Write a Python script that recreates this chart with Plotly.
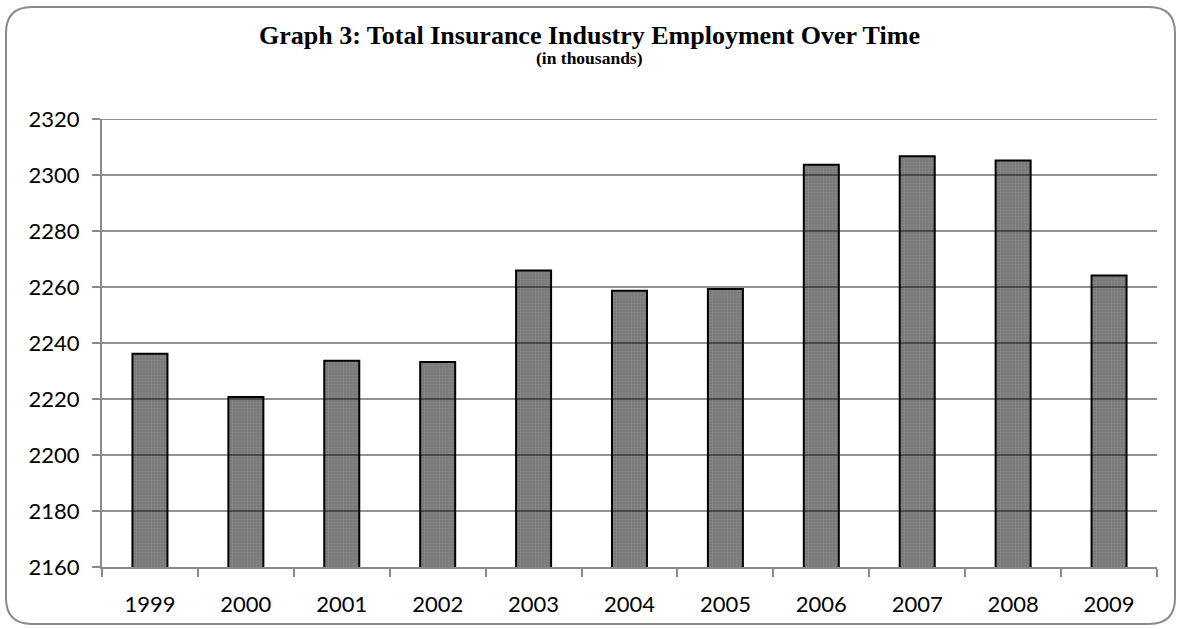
import plotly.graph_objects as go

years = ["1999", "2000", "2001", "2002", "2003", "2004", "2005", "2006", "2007", "2008", "2009"]
employment = [2236.2, 2220.7, 2233.7, 2233.2, 2265.9, 2258.7, 2259.3, 2303.7, 2306.7, 2305.2, 2264.1]
y_ticks = [2160, 2180, 2200, 2220, 2240, 2260, 2280, 2300, 2320]

title_text = "Graph 3: Total Insurance Industry Employment Over Time"
subtitle_text = "(in thousands)"

W, H = 1179, 629
ML, MR, MT, MB = 102, 22, 119, 62
PW, PH = W - ML - MR, H - MT - MB


def px(x):
    return (x - ML) / PW


def py(y):
    return (H - MB - y) / PH


fig = go.Figure()
fig.add_trace(go.Bar(
    x=years, y=employment,
    width=0.365,
    marker=dict(
        color="#767676",
        line=dict(color="#000000", width=2),
        pattern=dict(shape=".", fgcolor="#959595", size=3, solidity=0.45),
    ),
    hoverinfo="x+y",
))

# gridlines drawn on top of bars (as in the original)
for t in y_ticks[1:]:
    fig.add_shape(type="line", xref="paper", yref="y", x0=0, x1=1, y0=t, y1=t,
                  line=dict(color="rgba(0,0,0,0.42)", width=1.8), layer="above")

# rounded chart border
x0, x1, y0, y1, r = 6, 1175, 7, 624, 26
path = (f"M {px(x0 + r)} {py(y0)} L {px(x1 - r)} {py(y0)} "
        f"Q {px(x1)} {py(y0)} {px(x1)} {py(y0 + r)} "
        f"L {px(x1)} {py(y1 - r)} Q {px(x1)} {py(y1)} {px(x1 - r)} {py(y1)} "
        f"L {px(x0 + r)} {py(y1)} Q {px(x0)} {py(y1)} {px(x0)} {py(y1 - r)} "
        f"L {px(x0)} {py(y0 + r)} Q {px(x0)} {py(y0)} {px(x0 + r)} {py(y0)} Z")
fig.add_shape(type="path", xref="paper", yref="paper", path=path,
              line=dict(color="#8a8a8a", width=2), layer="below")

fig.add_annotation(text="<b>" + title_text + "</b>", xref="paper", yref="paper",
                   x=px(W / 2), y=py(36), xanchor="center", yanchor="middle",
                   showarrow=False,
                   font=dict(family="Liberation Serif", size=26, color="#000000"))
fig.add_annotation(text="<b>" + subtitle_text + "</b>", xref="paper", yref="paper",
                   x=px(W / 2), y=py(58), xanchor="center", yanchor="middle",
                   showarrow=False,
                   font=dict(family="Liberation Serif", size=17.5, color="#000000"))

fig.update_layout(
    width=W, height=H,
    margin=dict(l=ML, r=MR, t=MT, b=MB, pad=0),
    paper_bgcolor="#ffffff", plot_bgcolor="#ffffff",
    showlegend=False,
    font=dict(family="Lato", size=22, color="#000000"),
    xaxis=dict(
        type="category", tickson="boundaries", ticks="outside", ticklen=8,
        tickcolor="#8a8a8a", tickwidth=2, showline=True, linecolor="#8a8a8a",
        linewidth=2, showgrid=False, ticklabelstandoff=17,
        tickfont=dict(family="Lato", size=22, color="#000000"),
    ),
    yaxis=dict(
        range=[y_ticks[0], y_ticks[-1]], tickvals=y_ticks, ticks="outside",
        ticklen=8, tickcolor="#8a8a8a", tickwidth=2, showline=True,
        linecolor="#8a8a8a", linewidth=2, showgrid=False, zeroline=False,
        ticklabelstandoff=8,
        tickfont=dict(family="Lato", size=22, color="#000000"),
    ),
)

fig.write_html("out.html")
